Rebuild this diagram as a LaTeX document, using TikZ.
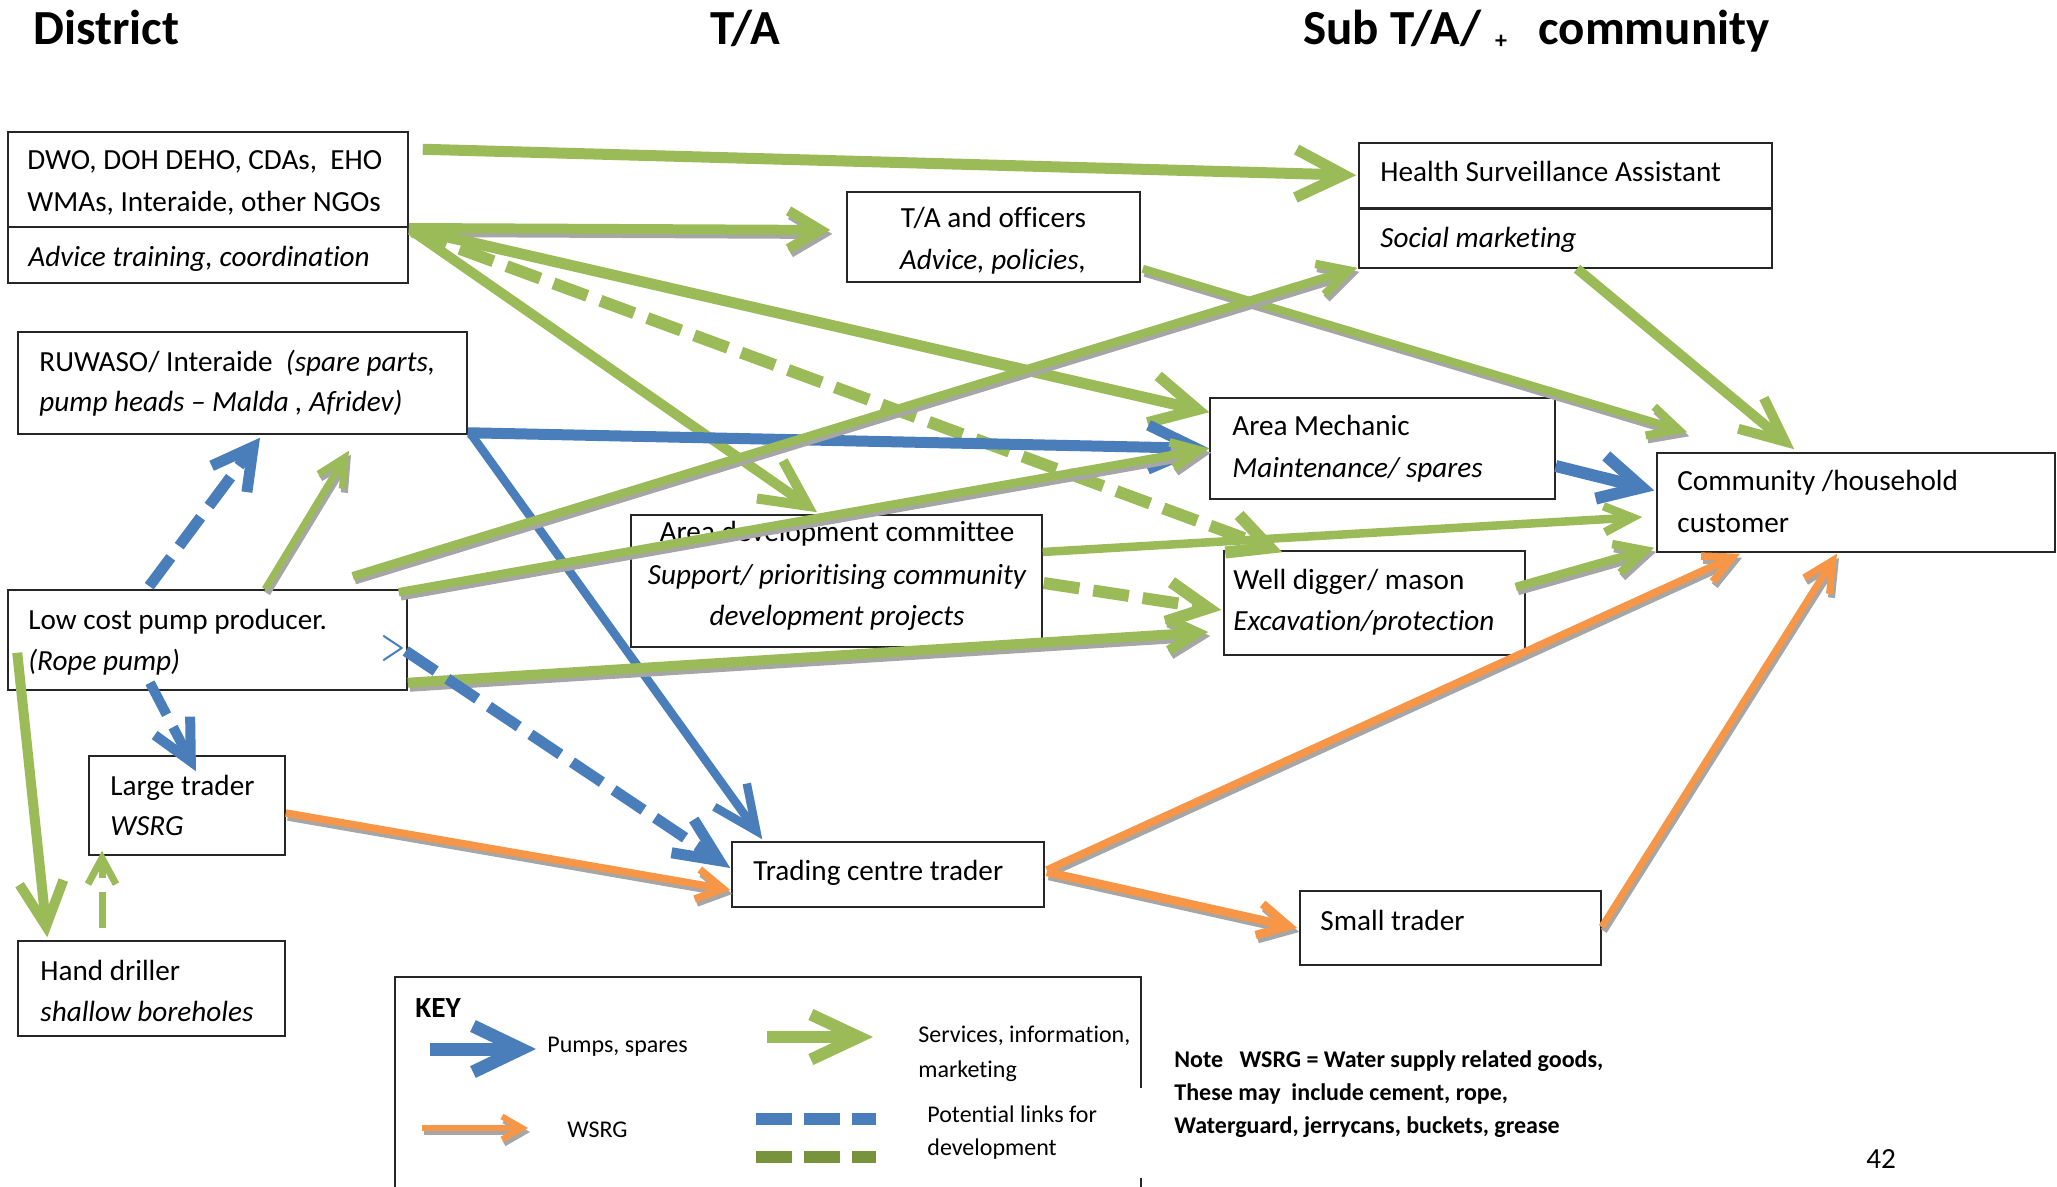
\documentclass[tikz,border=0pt]{standalone}
\usepackage{fontspec}
\setmainfont{Carlito}[Ligatures=NoCommon]
\usetikzlibrary{arrows.meta}
\definecolor{grn}{HTML}{9BBB59}
\definecolor{blu}{HTML}{4A7EBB}
\definecolor{org}{HTML}{F79646}
\definecolor{shd}{HTML}{A6A6A6}
\definecolor{dgrn}{HTML}{77933C}
\newcommand\myfs[1]{\fontsize{#1}{#1}\selectfont}
\newcommand\shadarrow[3]{%
  \draw[#1, draw=shd, transform canvas={shift={(1pt,-2pt)}}] #2 -- #3;
  \draw[#1] #2 -- #3;}
\begin{document}
\begin{tikzpicture}[x=0.5pt,y=-0.5pt,
  box/.style={draw=black!85, line width=0.75pt, fill=white, inner sep=0pt},
  divider/.style={draw=black!85, line width=0.75pt},
  txt/.style={inner sep=0pt, font=\myfs{14.6pt}},
  small/.style={inner sep=0pt, font=\myfs{12pt}},
  note/.style={inner sep=0pt, font=\myfs{12pt}\bfseries},
  head/.style={inner sep=0pt, font=\myfs{24.5pt}\bfseries},
  arr/.style n args={3}{line width=#1pt, arrows={-{Straight Barb[length=#2pt,width=#3pt]}}},
  g/.style={draw=grn}, b/.style={draw=blu}, o/.style={draw=org},
  dsh/.style={dash pattern=on 18pt off 7pt}
]
\useasboundingbox (0,0) rectangle (2057,1187);

% headings
\node[head, anchor=base west] (hdist) at (33,45) {District};
\node[head, anchor=base west] (hta) at (710,45) {T/A};
\node[head, anchor=base west] (hsub) at (1303,45) {Sub T/A/};
\node[inner sep=0pt, font=\myfs{12pt}\bfseries, anchor=base] (hplus) at (1501,49) {+};
\node[head, anchor=base west] (hcom) at (1538,45) {community};

% boxes
\node[box, minimum width=200pt, minimum height=75.5pt] (dwo) at (208,207.5) {};
\draw[divider] ([shift={(0,96)}]dwo.north west) -- ([shift={(0,96)}]dwo.north east);
\node[box, minimum width=146.5pt, minimum height=45pt] (ta) at (993.5,237) {};
\node[box, minimum width=206.5pt, minimum height=62.5pt] (hsa) at (1565.5,205.5) {};
\draw[divider, line width=1.3pt] ([shift={(0,66)}]hsa.north west) -- ([shift={(0,66)}]hsa.north east);
\node[box, minimum width=224.5pt, minimum height=51pt] (ruw) at (242.5,383) {};
\node[box, minimum width=172.5pt, minimum height=50.5pt] (am) at (1382.5,448.5) {};
\node[box, minimum width=199pt, minimum height=49.5pt] (com) at (1856,502.5) {};
\node[box, minimum width=205.5pt, minimum height=66pt] (adc) at (836.5,581) {};
\node[box, minimum width=150.5pt, minimum height=52pt] (wd) at (1374.5,603) {};
\node[box, minimum width=199.5pt, minimum height=50pt] (lcp) at (207.5,640) {};
\node[box, minimum width=98pt, minimum height=49.5pt] (lt) at (187,805.5) {};
\node[box, minimum width=156pt, minimum height=32.5pt] (tct) at (888,874.5) {};
\node[box, minimum width=150.5pt, minimum height=37pt] (st) at (1450.5,928) {};
\node[box, minimum width=133.5pt, minimum height=47.5pt] (hd) at (151.5,988.5) {};

% box texts
\node[txt, anchor=base west] (dwo1) at (27,170) {DWO, DOH DEHO, CDAs,\ \ EHO};
\node[txt, anchor=base west] (dwo2) at (27,212) {WMAs, Interaide, other NGOs};
\node[txt, anchor=base west] (dwo3) at (28,267) {\itshape Advice training, coordination};
\node[txt, anchor=base] (ta1) at (993.5,228) {T/A and officers};
\node[txt, anchor=base] (ta2) at (993,270) {\itshape Advice, policies,};
\node[txt, anchor=base west] (hsa1) at (1380,182) {Health Surveillance Assistant};
\node[txt, anchor=base west] (hsa2) at (1380,248) {\itshape Social marketing};
\node[txt, anchor=base west] (ruw1) at (39,372) {RUWASO/ Interaide\ \ \textit{(spare parts,}};
\node[txt, anchor=base west] (ruw2) at (39,412) {\itshape pump heads – Malda , Afridev)};
\node[txt, anchor=base west] (am1) at (1232,436) {Area Mechanic};
\node[txt, anchor=base west] (am2) at (1232,478) {\itshape Maintenance/ spares};
\node[txt, anchor=base west] (com1) at (1677,491) {Community /household};
\node[txt, anchor=base west] (com2) at (1677,532) {customer};
\node[txt, anchor=base] (adc1) at (837,542) {Area development committee};
\node[txt, anchor=base] (adc2) at (837,584) {\itshape Support/ prioritising community};
\node[txt, anchor=base] (adc3) at (837,625) {\itshape development projects};
\node[txt, anchor=base west] (wd1) at (1233,589) {Well digger/ mason};
\node[txt, anchor=base west] (wd2) at (1233,631) {\itshape Excavation/protection};
\node[txt, anchor=base west] (lcp1) at (28,629) {Low cost pump producer.};
\node[txt, anchor=base west] (lcp2) at (28,670) {\itshape (Rope pump)};
\node[txt, anchor=base west] (lt1) at (110,795) {Large trader};
\node[txt, anchor=base west] (lt2) at (110,835) {\itshape WSRG};
\node[txt, anchor=base west] (tct1) at (753,880) {Trading centre trader};
\node[txt, anchor=base west] (st1) at (1320,930) {Small trader};
\node[txt, anchor=base west] (hd1) at (40,980) {Hand driller};
\node[txt, anchor=base west] (hd2) at (40,1021) {\itshape shallow boreholes};

% connectors
\draw[g, arr={5.5}{24}{24}] ([shift={(14,18)}]dwo.north east) -- ([shift={(-2,33)}]hsa.north west);
\shadarrow{g, arr={5}{16}{19}}{([shift={(0,20.5)}]dwo.east)}{([shift={(-16,-7)}]ta.west)}
\draw[g, arr={5.5}{23}{24}] ([shift={(2,21)}]dwo.east) -- ([shift={(0,15)}]am.north west);
\draw[g, arr={5}{23}{23}] ([shift={(2,22.5)}]dwo.east) -- ([shift={(-19.5,-2)}]adc.north);
\draw[g, dsh, arr={6}{20}{20}] ([shift={(4,24)}]dwo.east) -- ([shift={(59,2)}]wd.north west);
\shadarrow{g, arr={4}{15}{15}}{([shift={(2,-14)}]ta.south east)}{([shift={(31,-20)}]com.north west)}
\draw[g, arr={5}{22}{20}] ([shift={(11.5,0)}]hsa.south) -- ([shift={(138,-3)}]com.north west);
\draw[b, arr={5.5}{24}{22}] ([shift={(0,-2)}]ruw.south east) -- (am.west);
\draw[b, arr={4.25}{22}{20}] ([shift={(3,-1)}]ruw.south east) -- ([shift={(31,-2)}]tct.north west);
\draw[b, arr={6}{21}{22}] ([shift={(0,17.5)}]am.east) -- ([shift={(-2,-12)}]com.west);
\draw[b, dsh, arr={5.5}{20}{22}] ([shift={(142,-3)}]lcp.north west) -- ([shift={(17.5,3)}]ruw.south);
\shadarrow{g, arr={3.5}{14}{14}}{([shift={(57.5,0)}]lcp.north)}{([shift={(106.5,16)}]ruw.south)}
\shadarrow{g, arr={4.25}{15}{16}}{([shift={(-55,-13)}]lcp.north east)}{([shift={(-1,-1)}]hsa.south west)}
\shadarrow{g, arr={4.25}{14}{13}}{([shift={(-9,3)}]lcp.north east)}{(am.west)}
\shadarrow{g, arr={5}{15}{16}}{([shift={(0,-8)}]lcp.south east)}{([shift={(-15,29)}]wd.west)}
\draw[b, dsh, arr={5.5}{22}{20}] ([shift={(-2,11)}]lcp.east) -- ([shift={(-1,-6.5)}]tct.west);
\draw[b, line width=1pt, line cap=round, line join=round] ([shift={(-24,-4)}]lcp.east) -- ([shift={(-6,8)}]lcp.east) -- ([shift={(-24,20)}]lcp.east);
\draw[b, dsh, arr={5}{20}{20}] ([shift={(-57.5,-8)}]lcp.south) -- ([shift={(9,16)}]lt.north);
\draw[g, arr={5}{22}{22}] ([shift={(10,-38)}]lcp.south west) -- ([shift={(30,-3)}]hd.north west);
\draw[g, dsh, arr={3.5}{13}{14}] ([shift={(-49.5,-12)}]hd.north) -- ([shift={(-85,-5)}]lt.south);
\shadarrow{o, arr={3.75}{13}{15}}{([shift={(0,7.5)}]lt.east)}{([shift={(-1,15.5)}]tct.west)}
\draw[g, arr={4.25}{14}{13}] ([shift={(0,-29)}]adc.east) -- ([shift={(-14,14.5)}]com.west);
\draw[g, dsh, arr={6}{20}{20}] ([shift={(1,2)}]adc.east) -- ([shift={(-2,7)}]wd.west);
\shadarrow{g, arr={4.25}{15}{15}}{([shift={(-10,-16)}]wd.east)}{([shift={(-2,-5)}]com.south west)}
\shadarrow{o, arr={3.75}{14}{14}}{([shift={(2,-4.5)}]tct.east)}{([shift={(-116,1)}]com.south)}
\shadarrow{o, arr={4.25}{15}{16}}{([shift={(2,-2.5)}]tct.east)}{([shift={(-2,0)}]st.west)}
\shadarrow{o, arr={3.5}{15}{15}}{([shift={(0,-1)}]st.east)}{([shift={(-19,1)}]com.south)}

% key
\draw[draw=black!85, line width=0.75pt] (1141,1088) -- (1141,977) -- (395,977) -- (395,1187);
\draw[draw=black!85, line width=0.75pt] (1141,1178) -- (1141,1187);
\node[inner sep=0pt, font=\myfs{14.6pt}\bfseries, anchor=base west] (key) at (415,1017) {KEY};
\coordinate (kb1) at (430,1049); \coordinate (kb2) at (536,1049);
\draw[b, arr={6.5}{24}{23}] (kb1) -- (kb2);
\coordinate (kg1) at (767,1037); \coordinate (kg2) at (873,1037);
\draw[g, arr={6}{24}{22.5}] (kg1) -- (kg2);
\coordinate (ko1) at (422,1128); \coordinate (ko2) at (528,1128);
\shadarrow{o, arr={3}{10}{11.5}}{(ko1)}{(ko2)}
\coordinate (kd1) at (756,1119); \coordinate (kd2) at (876,1119);
\draw[b, line width=6pt, dash pattern=on 18pt off 6pt] (kd1) -- (kd2);
\coordinate (ke1) at (756,1157); \coordinate (ke2) at (876,1157);
\draw[draw=dgrn, line width=6pt, dash pattern=on 18pt off 6pt] (ke1) -- (ke2);
\node[small, anchor=base west] (kl1) at (547,1052) {Pumps, spares};
\node[small, anchor=base west] (kl2) at (918,1042) {Services, information,};
\node[small, anchor=base west] (kl3) at (918,1077) {marketing};
\node[small, anchor=base west] (kl4) at (567,1137) {WSRG};
\node[small, anchor=base west] (kl5) at (927,1122) {Potential links for};
\node[small, anchor=base west] (kl6) at (927,1155) {development};

% note
\node[note, anchor=base west] (n1) at (1174,1067) {Note\ \ \ WSRG = Water supply related goods,};
\node[note, anchor=base west] (n2) at (1174,1100) {These may\ \ include cement, rope,};
\node[note, anchor=base west] (n3) at (1174,1133) {Waterguard, jerrycans, buckets, grease};
\node[txt, anchor=base west] (pg) at (1866,1168) {42};
\end{tikzpicture}
\end{document}
